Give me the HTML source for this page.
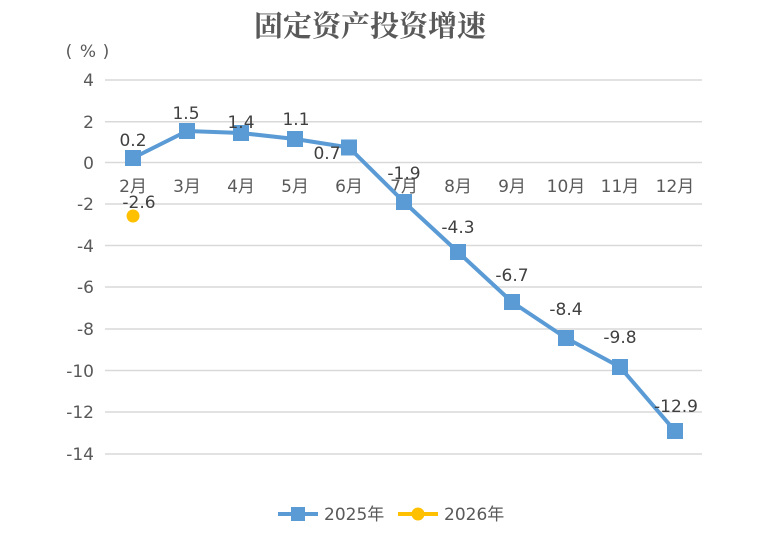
<!DOCTYPE html>
<html><head><meta charset="utf-8"><style>
html,body{margin:0;padding:0;background:#fff;width:771px;height:544px;overflow:hidden}
svg text{font-family:"DejaVu Sans","Noto Sans CJK SC",sans-serif}
svg text.t{font-family:"Noto Serif CJK SC","Noto Sans CJK SC",serif}
</style></head><body>
<svg width="771" height="544" xmlns="http://www.w3.org/2000/svg">
<rect width="771" height="544" fill="#fff"/>
<text class="t" x="370" y="36" text-anchor="middle" font-size="29" font-weight="bold" fill="#595959">固定资产投资增速</text>
<text x="69" y="57" text-anchor="middle" font-size="17" fill="#595959">(</text>
<text x="88" y="57" text-anchor="middle" font-size="17" fill="#595959">%</text>
<text x="106" y="57" text-anchor="middle" font-size="17" fill="#595959">)</text>
<g stroke="#d9d9d9" stroke-width="1.5">
<line x1="105" x2="702" y1="80" y2="80"/><line x1="105" x2="702" y1="121.7" y2="121.7"/>
<line x1="105" x2="702" y1="162.5" y2="162.5"/><line x1="105" x2="702" y1="204" y2="204"/>
<line x1="105" x2="702" y1="245.5" y2="245.5"/><line x1="105" x2="702" y1="287" y2="287"/>
<line x1="105" x2="702" y1="329" y2="329"/><line x1="105" x2="702" y1="370.5" y2="370.5"/>
<line x1="105" x2="702" y1="412" y2="412"/><line x1="105" x2="702" y1="454" y2="454"/>
</g>
<g font-size="17" fill="#595959" text-anchor="end">
<text x="94" y="86">4</text><text x="94" y="128">2</text><text x="94" y="169">0</text>
<text x="94" y="210">-2</text><text x="94" y="252">-4</text><text x="94" y="293">-6</text>
<text x="94" y="335">-8</text><text x="94" y="377">-10</text><text x="94" y="418">-12</text><text x="94" y="460">-14</text>
</g>
<g font-size="17" fill="#595959" text-anchor="middle">
<text x="133" y="192">2月</text><text x="187" y="192">3月</text><text x="241" y="192">4月</text><text x="295" y="192">5月</text>
<text x="349" y="192">6月</text><text x="404" y="192">7月</text><text x="458" y="192">8月</text><text x="512" y="192">9月</text>
<text x="566" y="192">10月</text><text x="620" y="192">11月</text><text x="675" y="192">12月</text>
</g>
<polyline fill="none" stroke="#5b9bd5" stroke-width="4" stroke-linejoin="round" points="133,158 187,131 241,133 295,139 349,147.5 404,202 458,252 512,302 566,338 620,367 675,431"/>
<g fill="#5b9bd5">
<rect x="125" y="150" width="16" height="16"/><rect x="179" y="123" width="16" height="16"/><rect x="233" y="125" width="16" height="16"/>
<rect x="287" y="131" width="16" height="16"/><rect x="341" y="139.5" width="16" height="16"/><rect x="396" y="194" width="16" height="16"/>
<rect x="450" y="244" width="16" height="16"/><rect x="504" y="294" width="16" height="16"/><rect x="558" y="330" width="16" height="16"/>
<rect x="612" y="359" width="16" height="16"/><rect x="667" y="423" width="16" height="16"/>
</g>
<circle cx="133" cy="216" r="6.5" fill="#ffc000"/>
<g font-size="17" fill="#404040" text-anchor="middle">
<text x="133" y="146">0.2</text><text x="186" y="119">1.5</text><text x="241" y="128">1.4</text><text x="296" y="125">1.1</text>
<text x="327" y="159">0.7</text><text x="404" y="179">-1.9</text><text x="458" y="233">-4.3</text><text x="512" y="281">-6.7</text>
<text x="566" y="315">-8.4</text><text x="620" y="343">-9.8</text><text x="676" y="412">-12.9</text>
<text x="139" y="208">-2.6</text>
</g>
<line x1="278" x2="318" y1="514" y2="514" stroke="#5b9bd5" stroke-width="4"/>
<rect x="291" y="507" width="14" height="14" fill="#5b9bd5"/>
<text x="324" y="520" font-size="17" fill="#595959">2025年</text>
<line x1="398" x2="438" y1="514" y2="514" stroke="#ffc000" stroke-width="4"/>
<circle cx="418" cy="514" r="6.5" fill="#ffc000"/>
<text x="444" y="520" font-size="17" fill="#595959">2026年</text>
</svg>
</body></html>
